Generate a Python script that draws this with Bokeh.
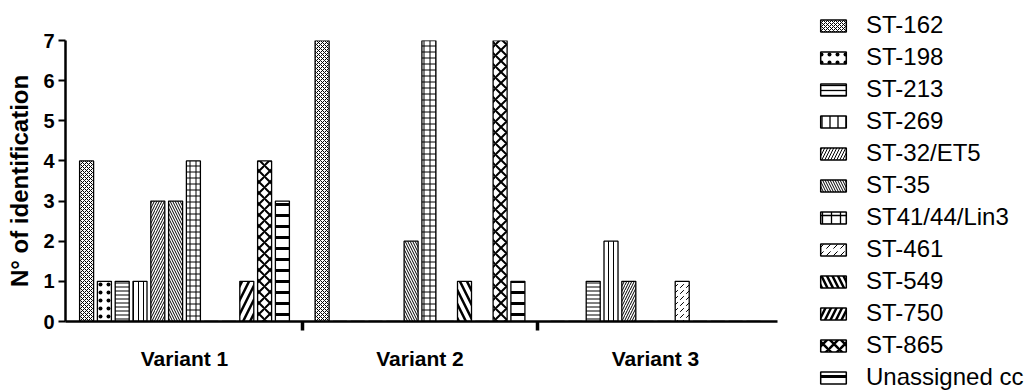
from bokeh.plotting import figure
from bokeh.layouts import row
from bokeh.models import Range1d, FixedTicker, Legend, LegendItem, ColumnDataSource
from bokeh.transform import dodge
from bokeh.embed import file_html
from bokeh.resources import INLINE

# ---- data ----
variants = ["Variant 1", "Variant 2", "Variant 3"]
series_names = ["ST-162", "ST-198", "ST-213", "ST-269", "ST-32/ET5", "ST-35",
                "ST41/44/Lin3", "ST-461", "ST-549", "ST-750", "ST-865", "Unassigned cc"]
st_162 = [4, 7, 0]
st_198 = [1, 0, 0]
st_213 = [1, 0, 1]
st_269 = [1, 0, 2]
st_32_et5 = [3, 0, 1]
st_35 = [3, 2, 0]
st_41_44_lin3 = [4, 7, 0]
st_461 = [0, 0, 1]
st_549 = [0, 1, 0]
st_750 = [1, 0, 0]
st_865 = [4, 7, 0]
unassigned_cc = [3, 1, 0]
series_values = [st_162, st_198, st_213, st_269, st_32_et5, st_35,
                 st_41_44_lin3, st_461, st_549, st_750, st_865, unassigned_cc]
y_ticks = [0, 1, 2, 3, 4, 5, 6, 7]

# ---- styles: (pattern, scale, weight) for bars, and for legend swatches ----
bar_hatches = [
    ("diagonal_cross", 4, 1.0),
    ("dot", 8, 4.0),
    ("horizontal_line", 4, 1.0),
    ("vertical_line", 5, 1.0),
    ("right_diagonal_line", 5, 1.0),
    ("left_diagonal_line", 5, 1.0),
    ("cross", 6, 1.0),
    ("right_diagonal_dash", 6, 1.0),
    ("left_diagonal_line", 14, 2.5),
    ("right_diagonal_line", 14, 2.5),
    ("diagonal_cross", 11, 2.0),
    ("horizontal_line", 11, 3.0),
]
legend_hatches = [
    ("diagonal_cross", 4, 1.0),
    ("dot", 8, 4.0),
    ("horizontal_line", 5, 1.3),
    ("vertical_line", 8, 1.3),
    ("right_diagonal_line", 6, 1.0),
    ("left_diagonal_line", 5, 1.0),
    ("cross", 9, 1.3),
    ("right_diagonal_dash", 7, 1.0),
    ("left_diagonal_line", 11, 2.5),
    ("right_diagonal_line", 11, 2.5),
    ("diagonal_cross", 11, 2.5),
    ("horizontal_line", 11, 3.0),
]

FONT = "Liberation Sans"
H = 390
MAIN_W = 783
LEG_W = 1027 - MAIN_W
group_px = 235.5
pitch = 17.8 / group_px
bar_w = 14.0 / group_px

p = figure(width=MAIN_W, height=H, output_backend="svg", toolbar_location=None,
           x_range=Range1d(-0.0053, 3.018), y_range=Range1d(0, 7),
           min_border_left=65, min_border_right=6, min_border_top=40,
           min_border_bottom=69, outline_line_color=None)
p.grid.visible = False
p.background_fill_color = "white"

# legend-only figure (its renderers are hidden, only the legend is shown)
q = figure(width=LEG_W, height=H, output_backend="svg", toolbar_location=None,
           x_range=Range1d(0, 3), y_range=Range1d(0, 7),
           x_axis_type=None, y_axis_type=None, min_border=0,
           outline_line_color=None)
q.grid.visible = False
for fig in (p, q):
    try:
        fig.frame_align = False
    except Exception:
        pass

centers = [i + 0.5 for i in range(len(variants))]
n = len(series_names)
items = []
for j, (name, vals) in enumerate(zip(series_names, series_values)):
    src = ColumnDataSource(dict(x=centers, top=vals))
    pat, sc, wt = bar_hatches[j]
    p.vbar(x=dodge("x", (j - (n - 1) / 2) * pitch), top="top", bottom=0,
           width=bar_w, source=src, fill_color="white", line_color="black",
           line_width=1.3, hatch_pattern=pat, hatch_scale=sc, hatch_weight=wt,
           hatch_color="black")
    lpat, lsc, lwt = legend_hatches[j]
    lr = q.vbar(x="x", top="top", bottom=0, width=bar_w, source=src,
                fill_color="white", line_color="black", line_width=1.5,
                hatch_pattern=lpat, hatch_scale=lsc, hatch_weight=lwt,
                hatch_color="black")
    lr.visible = False
    items.append(LegendItem(label=name, renderers=[lr]))

legend = Legend(items=items, location=(34, -3), padding=0, margin=0,
                border_line_color=None, background_fill_alpha=0,
                inactive_fill_alpha=0,
                glyph_width=32, glyph_height=15, label_height=32,
                spacing=0, label_standoff=17,
                label_text_font=FONT, label_text_font_size="24px",
                label_text_color="black")
q.add_layout(legend)

# y axis
ya = p.yaxis[0]
ya.ticker = FixedTicker(ticks=y_ticks)
ya.axis_label = "N° of identification"
ya.axis_label_text_font = FONT
ya.axis_label_text_font_style = "bold"
ya.axis_label_text_font_size = "24px"
ya.axis_label_text_color = "black"
ya.axis_label_standoff = 7
ya.major_label_text_font = FONT
ya.major_label_text_font_style = "bold"
ya.major_label_text_font_size = "20px"
ya.major_label_text_color = "black"
ya.major_label_standoff = 4
ya.axis_line_width = 2.5
ya.axis_line_color = "black"
ya.major_tick_line_width = 2
ya.major_tick_line_color = "black"
ya.major_tick_out = 7
ya.major_tick_in = 0
ya.minor_tick_line_color = None

# x axis
xa = p.xaxis[0]
xa.ticker = FixedTicker(ticks=centers, minor_ticks=[1, 2])
xa.major_label_overrides = {c: v for c, v in zip(centers, variants)}
xa.major_label_text_font = FONT
xa.major_label_text_font_style = "bold"
xa.major_label_text_font_size = "21px"
xa.major_label_text_color = "black"
xa.major_label_standoff = 16
xa.major_tick_line_color = None
xa.major_tick_out = 0
xa.major_tick_in = 0
xa.minor_tick_line_color = "black"
xa.minor_tick_line_width = 3.5
xa.minor_tick_out = 9
xa.minor_tick_in = 0
xa.axis_line_width = 2.5
xa.axis_line_color = "black"

layout = row(p, q, spacing=0)
open("out.html", "w").write(file_html(layout, INLINE))
